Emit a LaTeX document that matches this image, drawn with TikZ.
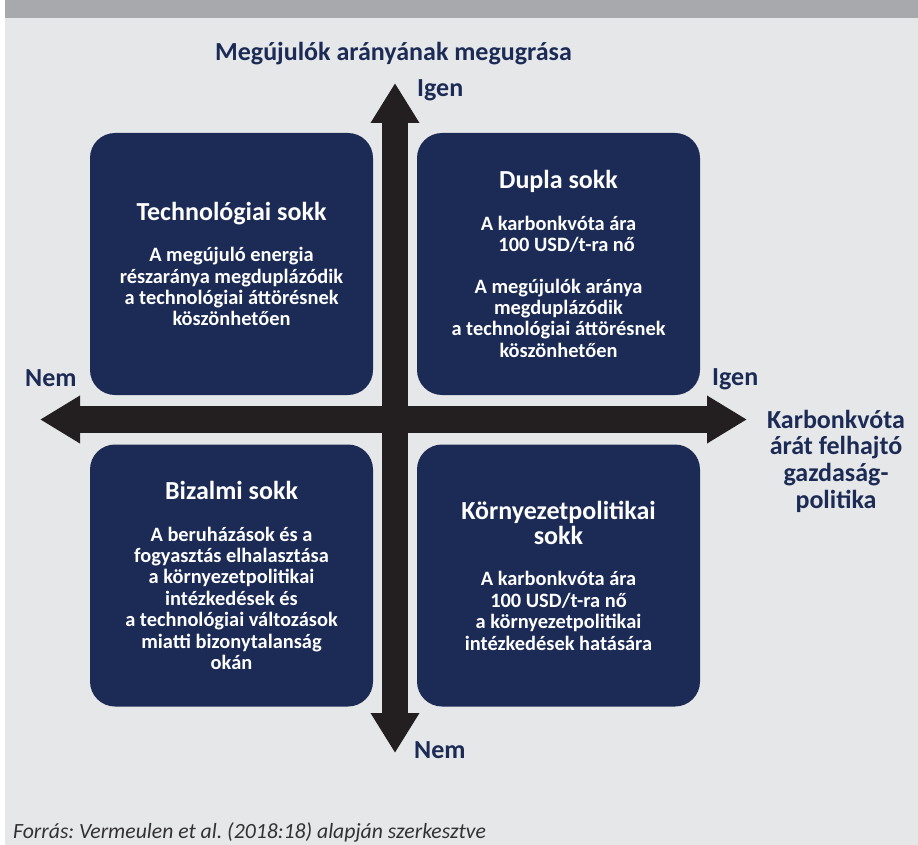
\documentclass[tikz,border=0pt]{standalone}
\usepackage{fontspec}
\setmainfont{Carlito}
\usetikzlibrary{arrows.meta}
\definecolor{navy}{RGB}{27,43,86}
\definecolor{axisblack}{RGB}{35,31,32}
\definecolor{bggray}{RGB}{230,231,232}
\definecolor{bargray}{RGB}{167,169,172}
\definecolor{srcgray}{RGB}{50,50,52}
\newcommand\boxhead{\fontsize{26}{27}\selectfont}
\frenchspacing
\begin{document}
\begin{tikzpicture}
[x=1pt,y=-1pt,
 box/.style={fill=navy,rounded corners=25pt,minimum width=283pt,minimum height=262pt,
   inner sep=0pt,text=white,align=center,font=\bfseries\fontsize{20.4}{21.4}\selectfont},
 lbl/.style={text=navy,font=\bfseries\fontsize{26}{26.7}\selectfont,inner sep=0pt},
 axis/.style={draw=axisblack,line width=26pt,
   {Triangle[length=40pt,width=46pt]}-{Triangle[length=40pt,width=46pt]}}]
\useasboundingbox (0,0) rectangle (918,845);
\fill[white] (0,0) rectangle (918,845);
\fill[bggray] (5,0) rectangle (918,845);
\fill[bargray] (5,0) rectangle (918,18);

\node[box] (tech) at (231.5,264) {{\boxhead Technológiai sokk}\\[20pt]
A megújuló energia\\részaránya megduplázódik\\a technológiai áttörésnek\\köszönhetően};
\node[box] (dupla) at (558.5,264) {{\boxhead Dupla sokk}\\[20pt]
A karbonkvóta ára\\\hspace*{0.8em}100 USD/t-ra nő\\[20pt]
A megújulók aránya\\megduplázódik\\a technológiai áttörésnek\\köszönhetően};
\node[box] (bizalmi) at (231.5,575.5) {{\boxhead Bizalmi sokk}\\[20pt]
A beruházások és a\\fogyasztás elhalasztása\\a környezetpolitikai\\intézkedések és\\a technológiai változások\\miatti bizonytalanság\\okán};
\node[box] (korny) at (558.5,575.5) {{\boxhead Környezetpolitikai}\\[2pt]{\boxhead sokk}\\[20pt]
A karbonkvóta ára\\100 USD/t-ra nő\\a környezetpolitikai\\intézkedések hatására};

\coordinate (vtop) at (395,83);
\coordinate (vbot) at (395,753);
\coordinate (hleft) at (40,419.5);
\coordinate (hright) at (747,419.5);
\draw[axis] (vbot) -- (vtop);
\draw[axis,{Triangle[length=40pt,width=45pt]}-{Triangle[length=40pt,width=45pt]},line width=27pt] (hleft) -- (hright);

\node[lbl,anchor=base] (ytitle) at (393.5,61) {Megújulók arányának megugrása};
\node[lbl,anchor=base west] (yyes) at (417,97) {Igen};
\node[lbl,anchor=base west] (yno) at (414,758) {Nem};
\node[lbl,anchor=base west] (xno) at (25,386) {Nem};
\node[lbl,anchor=base west] (xyes) at (712,385) {Igen};
\node[lbl,align=center] (xtitle) at (836,461) {Karbonkvóta\\árát felhajtó\\gazdaság-\\politika};

\node[anchor=base west,inner sep=0pt,text=srcgray,font=\itshape\fontsize{21.7}{24}\selectfont] (src) at (13,838)
{Forrás: Vermeulen et al. (2018:18) alapján szerkesztve};
\end{tikzpicture}
\end{document}
